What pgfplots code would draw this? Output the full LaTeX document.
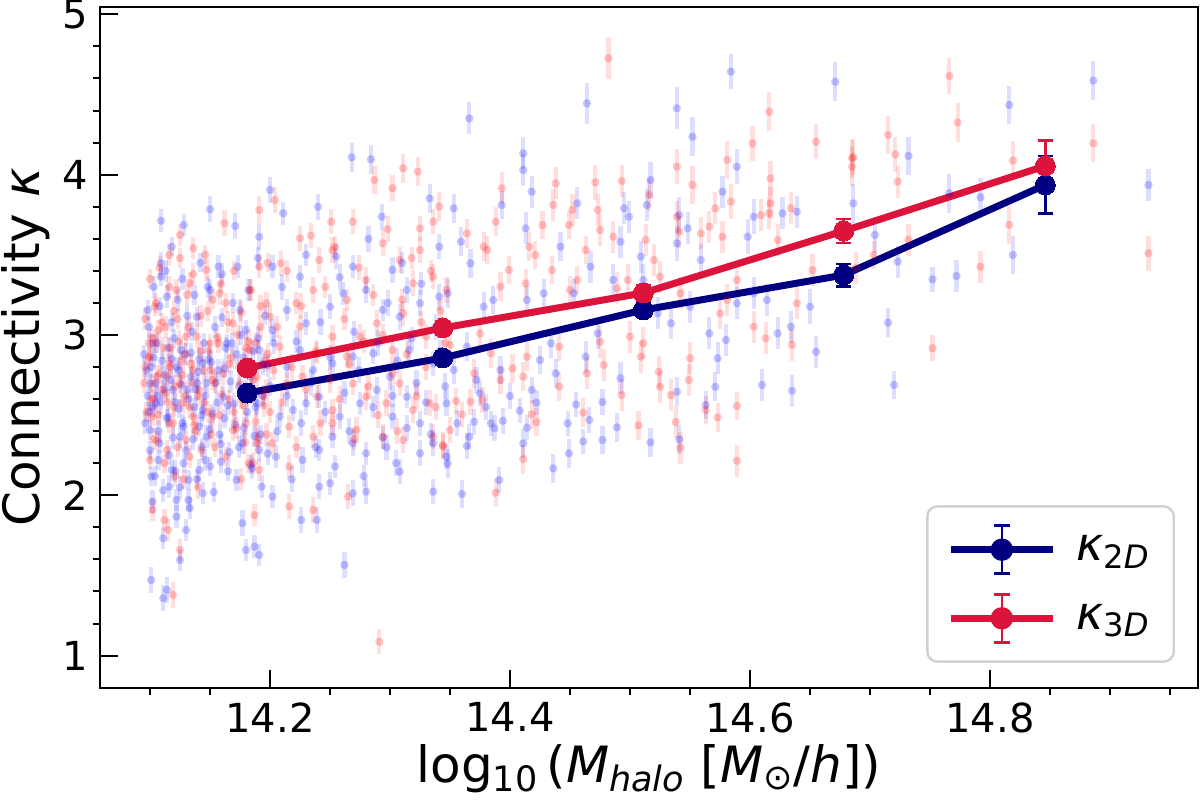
\documentclass[border=0pt]{standalone}
\usepackage{fontspec}
\setmainfont{DejaVu Sans}
\usepackage{pgfplots}
\pgfplotsset{compat=1.18}
\definecolor{navy}{RGB}{0,0,128}
\definecolor{crim}{RGB}{220,20,60}
\definecolor{scblue}{RGB}{0,0,255}
\definecolor{scred}{RGB}{255,0,0}
\pgfplotsset{
  scat/.style={only marks, mark=*, mark size=2.1pt, forget plot,
    mark options={fill=#1, draw=#1, fill opacity=0.22, draw opacity=0, line width=0pt},
    error bars/.cd, y dir=both, y explicit, error mark=none,
    error bar style={line width=2.1pt, draw=#1, draw opacity=0.13}},
  mean/.style={color=#1, line width=3.5pt, mark=*, mark size=5pt, forget plot,
    mark options={solid, fill=#1, draw=#1, line width=0pt},
    error bars/.cd, y dir=both, y explicit, error mark=|,
    error bar style={line width=1.3pt, #1, solid},
    error mark options={#1, line width=1.3pt, mark size=3.75pt, solid}},
}
\begin{document}
\begin{tikzpicture}
\useasboundingbox (-50pt,-55.5pt) rectangle (550pt,344pt);
\begin{axis}[
  at={(0pt,0pt)}, anchor=south west,
  width=549pt, height=340.5pt, scale only axis,
  xmin=14.0583, xmax=14.9733, ymin=0.798, ymax=5.046,
  xtick={14.2,14.4,14.6,14.8},
  xticklabels={14.2,14.4,14.6,14.8},
  minor xtick={14.1,14.15,14.25,14.3,14.35,14.45,14.5,14.55,14.65,14.7,14.75,14.85,14.9,14.95},
  ytick={1,2,3,4,5},
  yticklabels={1,2,3,4,5},
  minor ytick={1.2,1.4,1.6,1.8,2.2,2.4,2.6,2.8,3.2,3.4,3.6,3.8,4.2,4.4,4.6,4.8},
  xtick pos=bottom, ytick pos=left,
  tick align=inside,
  major tick length=9pt, minor tick length=3.5pt,
  every tick/.style={black, line width=1pt},
  minor x tick style={yshift=-3.5pt},
  minor y tick style={xshift=-3.5pt},
  axis line style={line width=1.1pt},
  /pgf/number format/assume math mode=true,
  tick label style={font=\fontsize{20}{24}\selectfont},
  xticklabel style={inner sep=0pt, yshift=-7pt},
  yticklabel style={inner sep=0pt, xshift=-6pt},
  xlabel={log\textsubscript{10}\,(\textit{M}\textsubscript{\textit{halo}} [\textit{M}\textsubscript{⊙}/\textit{h}])},
  ylabel={Connectivity \textit{κ}},
  xlabel style={font=\fontsize{25}{30}\selectfont, at={(axis description cs:0.5,-0.1387)}, anchor=base, inner sep=0pt},
  ylabel style={font=\fontsize{25}{30}\selectfont, at={(axis description cs:-0.0455,0.5)}, anchor=south, inner sep=0pt},
  legend cell align=left,
  legend style={at={(0.979,0.037)}, anchor=south east, draw=black!18, line width=1.2pt,
    rounded corners=5pt, inner xsep=10pt, inner ysep=9pt, row sep=9pt, column sep=8pt,
    font=\fontsize{23}{26}\selectfont},
]
% ---------- scatter: kappa 2D (blue) ----------
\addplot[scat=scblue] table[x index=0, y index=1, y error index=2] {
14.109 3.713 0.07
14.150 3.784 0.08
14.128 3.686 0.07
14.171 3.680 0.08
14.200 3.905 0.08
14.211 3.759 0.07
14.240 3.800 0.08
14.268 4.108 0.09
14.284 4.096 0.09
14.293 3.738 0.08
14.333 3.852 0.09
14.341 3.551 0.08
14.109 3.447 0.07
14.109 3.364 0.06
14.157 3.426 0.07
14.173 3.426 0.07
14.191 3.613 0.08
14.202 3.426 0.07
14.225 3.364 0.07
14.255 3.489 0.08
14.269 3.426 0.07
14.302 3.406 0.08
14.314 3.281 0.08
14.098 3.156 0.06
14.114 3.239 0.07
14.139 3.114 0.06
14.150 3.281 0.07
14.175 3.156 0.07
14.180 3.031 0.06
14.202 3.031 0.07
14.214 3.156 0.07
14.230 3.073 0.07
14.250 3.177 0.08
14.261 3.260 0.07
14.280 3.281 0.08
14.294 3.156 0.07
14.308 3.114 0.08
14.325 3.198 0.08
14.341 3.239 0.08
14.102 2.948 0.06
14.126 2.906 0.06
14.144 2.823 0.07
14.164 2.948 0.06
14.191 2.906 0.07
14.214 2.802 0.07
14.225 2.906 0.07
14.236 2.782 0.07
14.252 2.823 0.07
14.269 2.865 0.08
14.286 2.886 0.07
14.300 2.740 0.08
14.316 2.906 0.08
14.336 2.823 0.08
14.100 2.698 0.06
14.105 2.574 0.06
14.119 2.657 0.06
14.139 2.698 0.06
14.144 2.532 0.07
14.161 2.615 0.06
14.189 2.574 0.07
14.208 2.491 0.07
14.219 2.532 0.07
14.230 2.574 0.07
14.241 2.615 0.07
14.258 2.491 0.08
14.275 2.574 0.07
14.289 2.657 0.08
14.302 2.491 0.08
14.314 2.615 0.07
14.325 2.449 0.08
14.347 2.574 0.08
14.100 2.408 0.06
14.108 2.325 0.06
14.125 2.366 0.07
14.141 2.428 0.06
14.147 2.366 0.07
14.177 2.325 0.07
14.191 2.283 0.07
14.205 2.241 0.07
14.227 2.221 0.08
14.241 2.283 0.07
14.252 2.366 0.07
14.269 2.325 0.08
14.280 2.262 0.07
14.297 2.300 0.08
14.305 2.200 0.08
14.325 2.262 0.08
14.336 2.325 0.08
14.347 2.241 0.08
14.101 2.117 0.06
14.118 2.158 0.07
14.132 2.096 0.06
14.141 2.158 0.07
14.159 2.210 0.07
14.172 2.096 0.07
14.193 2.054 0.07
14.241 2.054 0.08
14.250 2.075 0.07
14.269 2.013 0.08
14.280 2.023 0.08
14.308 2.148 0.08
14.336 2.023 0.08
14.102 1.961 0.07
14.116 2.054 0.07
14.122 1.971 0.07
14.132 1.971 0.07
14.144 2.013 0.07
14.122 1.867 0.07
14.130 1.784 0.07
14.111 1.732 0.07
14.177 1.826 0.08
14.202 1.992 0.07
14.226 1.846 0.08
14.239 1.846 0.08
14.180 1.659 0.07
14.187 1.680 0.07
14.191 1.628 0.07
14.262 1.566 0.08
14.101 1.472 0.08
14.111 1.358 0.08
14.114 1.410 0.08
14.125 1.597 0.07
14.097 2.78 0.06
14.103 2.86 0.06
14.106 2.62 0.06
14.112 2.75 0.06
14.115 2.49 0.06
14.118 2.85 0.06
14.121 2.58 0.06
14.124 2.78 0.06
14.127 2.45 0.06
14.131 2.66 0.06
14.134 2.89 0.06
14.137 2.55 0.06
14.140 2.77 0.06
14.143 2.30 0.06
14.146 2.62 0.06
14.149 2.85 0.06
14.152 2.51 0.06
14.155 2.70 0.06
14.158 2.38 0.06
14.162 2.79 0.06
14.165 2.56 0.06
14.168 2.95 0.06
14.171 2.44 0.06
14.174 2.68 0.06
14.178 2.86 0.06
14.181 2.52 0.06
14.184 2.74 0.06
14.187 2.37 0.07
14.190 2.98 0.07
14.194 2.62 0.07
14.198 2.81 0.07
14.135 3.02 0.06
14.118 3.08 0.06
14.160 3.11 0.06
14.099 2.52 0.06
14.107 2.22 0.06
14.128 2.20 0.06
14.150 2.18 0.06
14.166 2.27 0.06
14.185 2.17 0.07
14.366 4.351 0.10
14.464 4.445 0.13
14.411 4.133 0.10
14.411 4.029 0.10
14.418 3.894 0.10
14.353 3.790 0.09
14.359 3.582 0.09
14.393 3.811 0.09
14.413 3.665 0.10
14.442 3.551 0.09
14.456 3.821 0.10
14.495 3.790 0.10
14.499 3.738 0.10
14.492 3.582 0.10
14.517 3.967 0.11
14.514 3.811 0.10
14.539 4.414 0.13
14.552 4.237 0.12
14.541 3.748 0.11
14.548 3.665 0.10
14.539 3.572 0.11
14.584 4.643 0.11
14.589 4.050 0.11
14.577 3.894 0.10
14.603 3.738 0.11
14.598 3.613 0.11
14.627 3.759 0.10
14.639 3.769 0.10
14.671 4.580 0.12
14.686 3.821 0.12
14.559 3.468 0.10
14.509 3.489 0.10
14.511 3.343 0.10
14.486 3.343 0.10
14.467 3.426 0.10
14.453 3.260 0.09
14.428 3.260 0.09
14.414 3.218 0.09
14.348 3.260 0.09
14.367 3.447 0.09
14.378 3.177 0.09
14.386 3.218 0.09
14.534 3.073 0.10
14.523 3.135 0.10
14.550 3.177 0.10
14.566 3.010 0.10
14.580 2.969 0.10
14.589 3.198 0.10
14.614 3.218 0.10
14.623 3.010 0.10
14.634 3.052 0.10
14.650 3.177 0.11
14.655 2.896 0.10
14.603 3.260 0.10
14.573 2.855 0.10
14.463 2.865 0.10
14.473 3.010 0.10
14.434 2.948 0.09
14.425 2.844 0.09
14.392 2.782 0.09
14.353 2.782 0.09
14.364 2.927 0.09
14.492 2.730 0.10
14.438 2.761 0.09
14.348 2.199 0.09
14.364 2.307 0.08
14.366 2.366 0.08
14.370 2.459 0.08
14.360 2.008 0.09
14.391 2.095 0.08
14.387 2.418 0.08
14.384 2.449 0.08
14.394 2.465 0.08
14.408 2.528 0.08
14.411 2.324 0.09
14.414 2.422 0.08
14.422 2.578 0.08
14.400 2.619 0.08
14.436 2.168 0.09
14.448 2.449 0.08
14.449 2.262 0.09
14.455 2.567 0.08
14.461 2.336 0.08
14.466 2.470 0.08
14.477 2.345 0.09
14.477 2.582 0.08
14.489 2.424 0.09
14.517 2.330 0.09
14.541 2.349 0.09
14.539 2.646 0.09
14.563 2.563 0.09
14.571 2.677 0.09
14.610 2.688 0.10
14.635 2.652 0.10
14.375 2.636 0.08
14.418 2.657 0.08
14.380 2.55 0.08
14.356 2.45 0.08
14.372 2.72 0.08
14.816 4.435 0.12
14.886 4.587 0.12
14.732 4.117 0.12
14.792 3.859 0.12
14.766 3.884 0.12
14.932 3.936 0.10
14.704 3.624 0.11
14.723 3.458 0.10
14.752 3.347 0.08
14.772 3.368 0.10
14.819 3.499 0.12
14.715 3.077 0.09
14.720 2.688 0.09
};
\addplot[scat=scblue] table[x index=0, y index=1, y error index=2] {
14.095 2.88 0.06
14.096 2.45 0.07
14.098 2.62 0.06
14.099 3.05 0.07
14.100 2.28 0.06
14.101 2.80 0.07
14.102 2.55 0.06
14.103 3.30 0.07
14.104 2.12 0.06
14.105 2.70 0.07
14.106 2.95 0.06
14.107 2.40 0.07
14.108 3.18 0.06
14.109 2.58 0.07
14.110 2.84 0.06
14.111 2.03 0.07
14.112 2.66 0.06
14.113 3.40 0.07
14.114 2.48 0.06
14.115 2.92 0.07
14.116 2.25 0.06
14.117 2.72 0.07
14.118 3.55 0.06
14.119 2.36 0.07
14.120 2.98 0.06
14.121 2.15 0.07
14.122 2.80 0.06
14.123 3.22 0.07
14.124 2.54 0.06
14.125 2.05 0.07
14.126 2.69 0.06
14.127 3.35 0.07
14.128 2.43 0.06
14.129 2.88 0.07
14.130 2.28 0.06
14.131 3.12 0.07
14.132 2.60 0.06
14.133 1.92 0.07
14.134 2.74 0.06
14.136 2.35 0.07
14.137 3.25 0.06
14.138 2.66 0.07
14.139 2.10 0.06
14.141 2.85 0.07
14.142 3.45 0.06
14.143 2.50 0.07
14.145 2.95 0.06
14.146 2.22 0.07
14.147 2.70 0.06
14.148 3.30 0.07
14.150 2.41 0.06
14.151 2.83 0.07
14.153 2.02 0.06
14.154 3.05 0.07
14.156 2.58 0.06
14.157 2.78 0.07
14.159 2.32 0.06
14.160 3.38 0.07
14.162 2.48 0.06
14.163 2.92 0.07
14.165 2.15 0.06
14.167 2.71 0.07
14.169 3.20 0.06
14.170 2.57 0.07
14.172 2.88 0.06
14.174 2.30 0.07
14.176 3.00 0.06
14.178 2.42 0.07
14.180 2.76 0.06
14.182 3.28 0.07
14.184 2.19 0.06
14.186 2.90 0.07
14.188 2.55 0.06
14.190 3.48 0.07
14.192 2.38 0.06
14.194 2.82 0.07
14.196 3.12 0.06
14.198 2.26 0.07
14.200 2.68 0.06
14.203 2.95 0.07
14.206 2.40 0.07
14.210 3.30 0.08
14.214 2.62 0.07
14.218 2.10 0.08
14.222 2.96 0.07
14.226 2.45 0.08
14.230 3.50 0.07
14.234 2.70 0.08
14.238 2.30 0.07
14.242 3.08 0.08
14.246 2.52 0.07
14.250 2.86 0.08
14.254 2.18 0.07
14.258 3.36 0.08
14.262 2.64 0.07
14.266 2.40 0.08
14.270 3.02 0.07
14.274 2.78 0.08
14.278 2.12 0.07
14.282 3.60 0.08
14.286 2.55 0.07
14.290 2.95 0.08
14.294 2.36 0.07
14.298 3.20 0.08
14.302 2.62 0.07
14.306 2.84 0.08
14.310 3.45 0.07
14.314 2.42 0.08
14.318 2.98 0.07
14.322 2.70 0.08
14.326 3.32 0.07
14.330 2.58 0.08
14.334 2.38 0.07
14.338 3.05 0.08
14.342 2.90 0.07
14.346 2.68 0.08
};
% ---------- scatter: kappa 3D (red) ----------
\addplot[scat=scred] table[x index=0, y index=1, y error index=2] {
14.125 3.624 0.07
14.116 3.499 0.07
14.136 3.541 0.07
14.162 3.697 0.08
14.191 3.780 0.09
14.204 3.842 0.08
14.225 3.603 0.08
14.251 3.707 0.08
14.269 3.707 0.08
14.287 3.967 0.09
14.302 3.915 0.08
14.311 4.040 0.09
14.323 4.019 0.09
14.325 3.665 0.08
14.336 3.707 0.08
14.341 3.801 0.09
14.291 1.087 0.08
14.104 3.177 0.06
14.105 2.948 0.06
14.122 3.281 0.07
14.133 3.323 0.07
14.147 3.406 0.07
14.158 3.260 0.07
14.183 3.281 0.07
14.191 3.426 0.07
14.209 3.447 0.08
14.197 3.198 0.07
14.222 3.198 0.07
14.236 3.281 0.08
14.241 3.468 0.08
14.252 3.530 0.08
14.264 3.219 0.07
14.280 3.343 0.08
14.294 3.572 0.08
14.308 3.468 0.08
14.319 3.323 0.08
14.325 3.530 0.08
14.336 3.364 0.08
14.347 3.281 0.08
14.100 2.865 0.06
14.107 3.031 0.06
14.116 2.823 0.06
14.130 2.990 0.06
14.136 2.782 0.06
14.150 2.948 0.06
14.169 3.073 0.07
14.183 2.906 0.07
14.200 3.114 0.07
14.208 2.927 0.07
14.225 3.052 0.07
14.239 2.886 0.07
14.252 2.990 0.07
14.264 2.865 0.07
14.275 2.990 0.08
14.289 3.073 0.08
14.302 2.906 0.08
14.311 3.135 0.08
14.330 2.990 0.08
14.102 2.698 0.06
14.114 2.740 0.06
14.125 2.698 0.06
14.127 2.574 0.06
14.141 2.657 0.06
14.152 2.719 0.06
14.175 2.698 0.07
14.189 2.740 0.07
14.197 2.657 0.07
14.214 2.698 0.07
14.227 2.740 0.07
14.239 2.615 0.07
14.252 2.532 0.07
14.269 2.698 0.07
14.280 2.615 0.08
14.297 2.574 0.08
14.308 2.698 0.08
14.319 2.532 0.08
14.333 2.574 0.08
14.102 2.491 0.06
14.116 2.449 0.06
14.130 2.345 0.06
14.136 2.491 0.06
14.152 2.491 0.06
14.169 2.408 0.07
14.180 2.449 0.07
14.189 2.325 0.07
14.202 2.325 0.07
14.216 2.428 0.07
14.236 2.366 0.07
14.252 2.449 0.07
14.272 2.408 0.08
14.294 2.366 0.08
14.311 2.345 0.08
14.336 2.366 0.08
14.344 2.304 0.08
14.100 2.221 0.06
14.114 2.283 0.06
14.133 2.241 0.07
14.186 2.200 0.07
14.191 2.158 0.07
14.216 2.179 0.07
14.102 1.909 0.07
14.112 1.846 0.07
14.115 1.784 0.07
14.125 1.659 0.07
14.119 1.379 0.08
14.187 1.877 0.07
14.216 1.930 0.08
14.236 1.909 0.08
14.265 1.992 0.08
14.096 2.80 0.06
14.099 2.95 0.06
14.103 2.60 0.06
14.108 2.76 0.06
14.110 3.08 0.06
14.113 2.64 0.06
14.117 2.92 0.06
14.120 2.55 0.06
14.123 3.10 0.06
14.126 2.84 0.06
14.129 2.62 0.06
14.132 3.05 0.06
14.135 2.70 0.06
14.138 2.40 0.06
14.142 2.90 0.06
14.145 2.58 0.06
14.148 3.15 0.06
14.151 2.78 0.06
14.154 2.30 0.06
14.157 2.95 0.06
14.160 2.63 0.06
14.163 3.20 0.06
14.166 2.82 0.06
14.170 2.52 0.06
14.173 3.00 0.06
14.176 2.60 0.06
14.179 2.33 0.07
14.182 2.96 0.07
14.185 2.64 0.07
14.188 2.46 0.07
14.192 3.05 0.07
14.195 2.56 0.07
14.198 2.88 0.07
14.106 2.34 0.06
14.121 2.12 0.06
14.140 2.05 0.07
14.176 2.10 0.07
14.197 2.38 0.07
14.482 4.726 0.13
14.616 4.393 0.12
14.655 4.206 0.11
14.602 4.195 0.11
14.685 4.102 0.12
14.685 4.050 0.12
14.581 4.092 0.12
14.539 4.050 0.11
14.552 3.936 0.12
14.617 3.977 0.11
14.584 3.832 0.11
14.617 3.821 0.10
14.616 3.759 0.10
14.609 3.748 0.10
14.571 3.790 0.10
14.634 3.790 0.10
14.623 3.593 0.10
14.559 3.634 0.10
14.566 3.676 0.10
14.577 3.613 0.10
14.539 3.738 0.10
14.541 3.645 0.10
14.516 3.873 0.10
14.513 3.593 0.10
14.520 3.468 0.10
14.493 3.961 0.10
14.471 3.952 0.11
14.438 3.946 0.10
14.393 3.915 0.10
14.436 3.811 0.10
14.452 3.780 0.10
14.473 3.780 0.10
14.475 3.655 0.10
14.486 3.613 0.10
14.449 3.686 0.09
14.427 3.686 0.09
14.388 3.707 0.09
14.364 3.634 0.09
14.378 3.551 0.09
14.381 3.530 0.09
14.416 3.551 0.09
14.421 3.499 0.09
14.399 3.405 0.09
14.392 3.301 0.09
14.413 3.322 0.09
14.435 3.405 0.09
14.456 3.343 0.09
14.463 3.530 0.09
14.450 3.281 0.09
14.489 3.291 0.10
14.498 3.343 0.10
14.525 3.364 0.10
14.542 3.260 0.10
14.575 3.135 0.10
14.589 3.343 0.10
14.581 3.218 0.10
14.603 3.052 0.10
14.613 2.979 0.10
14.635 2.938 0.10
14.639 3.198 0.10
14.652 3.405 0.10
14.500 2.990 0.10
14.509 2.865 0.10
14.511 2.948 0.10
14.475 2.958 0.10
14.478 2.813 0.10
14.464 2.761 0.10
14.441 2.927 0.09
14.414 2.865 0.09
14.402 2.792 0.09
14.370 2.761 0.09
14.350 2.938 0.09
14.375 3.010 0.09
14.384 2.886 0.09
14.411 2.740 0.09
14.524 2.771 0.10
14.550 2.855 0.10
14.549 2.719 0.10
14.392 2.719 0.09
14.350 2.407 0.08
14.344 2.314 0.08
14.355 2.588 0.08
14.360 2.505 0.08
14.367 2.584 0.08
14.377 2.594 0.08
14.388 2.016 0.09
14.411 2.226 0.09
14.418 2.505 0.09
14.422 2.457 0.09
14.461 2.515 0.09
14.507 2.436 0.09
14.538 2.457 0.10
14.542 2.297 0.10
14.573 2.486 0.09
14.589 2.557 0.09
14.589 2.216 0.10
14.534 2.625 0.10
14.493 2.625 0.10
14.525 2.677 0.10
14.441 2.678 0.09
14.563 2.532 0.09
14.766 4.616 0.11
14.773 4.325 0.12
14.715 4.248 0.12
14.721 4.127 0.11
14.723 3.957 0.10
14.686 4.109 0.11
14.886 4.196 0.12
14.819 4.088 0.12
14.816 3.687 0.12
14.932 3.510 0.11
14.732 3.593 0.10
14.703 3.499 0.09
14.792 3.426 0.10
14.752 2.917 0.08
14.688 3.416 0.10
};
\addplot[scat=scred] table[x index=0, y index=1, y error index=2] {
14.095 2.70 0.06
14.096 3.10 0.07
14.097 2.52 0.06
14.099 2.86 0.07
14.100 3.35 0.06
14.101 2.60 0.07
14.102 2.98 0.06
14.103 2.35 0.07
14.105 3.20 0.06
14.106 2.74 0.07
14.107 2.50 0.06
14.108 3.42 0.07
14.110 2.66 0.06
14.111 2.92 0.07
14.112 2.20 0.06
14.113 3.05 0.07
14.115 2.58 0.06
14.116 3.30 0.07
14.117 2.80 0.06
14.119 2.45 0.07
14.120 3.15 0.06
14.121 2.68 0.07
14.123 2.30 0.06
14.124 2.96 0.07
14.125 3.48 0.06
14.127 2.75 0.07
14.128 2.10 0.06
14.130 2.88 0.07
14.131 3.25 0.06
14.133 2.55 0.07
14.134 2.82 0.06
14.136 3.38 0.07
14.137 2.44 0.06
14.139 2.99 0.07
14.140 2.62 0.06
14.142 3.12 0.07
14.143 2.28 0.06
14.145 2.78 0.07
14.146 3.50 0.06
14.148 2.52 0.07
14.149 2.90 0.06
14.151 2.38 0.07
14.152 3.22 0.06
14.154 2.70 0.07
14.156 2.98 0.06
14.158 2.50 0.07
14.159 3.32 0.06
14.161 2.76 0.07
14.163 2.24 0.06
14.165 3.08 0.07
14.166 2.60 0.06
14.168 2.86 0.07
14.170 3.40 0.06
14.172 2.42 0.07
14.174 2.80 0.06
14.176 3.14 0.07
14.178 2.56 0.06
14.180 2.92 0.07
14.182 2.20 0.06
14.184 3.28 0.07
14.186 2.72 0.06
14.188 2.95 0.07
14.190 2.36 0.06
14.192 3.18 0.07
14.194 2.62 0.06
14.196 2.84 0.07
14.198 3.45 0.06
14.200 2.52 0.07
14.203 2.78 0.06
14.206 3.05 0.07
14.210 2.58 0.08
14.214 3.40 0.07
14.218 2.80 0.08
14.222 2.30 0.07
14.226 3.18 0.08
14.230 2.66 0.07
14.234 3.62 0.08
14.238 2.90 0.07
14.242 2.45 0.08
14.246 3.30 0.07
14.250 2.72 0.08
14.254 3.55 0.07
14.258 2.60 0.08
14.262 3.10 0.07
14.266 2.82 0.08
14.270 2.35 0.07
14.274 3.42 0.08
14.278 2.96 0.07
14.282 2.68 0.08
14.286 3.25 0.07
14.290 2.50 0.08
14.294 3.00 0.07
14.298 3.66 0.08
14.302 2.76 0.07
14.306 2.40 0.08
14.310 3.22 0.07
14.314 2.88 0.08
14.318 3.48 0.07
14.322 2.62 0.08
14.326 3.08 0.07
14.330 2.80 0.08
14.334 3.40 0.07
14.338 2.55 0.08
14.342 3.15 0.07
14.346 2.95 0.08
};
% ---------- binned means ----------
\addplot[mean=navy] table[x index=0, y index=1, y error index=2] {
14.181 2.638 0.03
14.344 2.857 0.03
14.511 3.156 0.04
14.678 3.374 0.07
14.846 3.936 0.18
};
\addplot[mean=crim] table[x index=0, y index=1, y error index=2] {
14.181 2.794 0.03
14.344 3.044 0.03
14.511 3.262 0.05
14.678 3.649 0.075
14.846 4.054 0.16
};
% ---------- legend ----------
\addlegendimage{legend image code/.code={
  \draw[navy, line width=3.5pt] (0pt,0pt) -- (51pt,0pt);
  \draw[navy, line width=1.3pt] (25.5pt,-12pt) -- (25.5pt,12pt);
  \draw[navy, line width=1.3pt] (21.5pt,-12pt) -- (29.5pt,-12pt) (21.5pt,12pt) -- (29.5pt,12pt);
  \fill[navy] (25.5pt,0pt) circle (5pt);}}
\addlegendentry{\textit{κ}\textsubscript{2\textit{D}}}
\addlegendimage{legend image code/.code={
  \draw[crim, line width=3.5pt] (0pt,0pt) -- (51pt,0pt);
  \draw[crim, line width=1.3pt] (25.5pt,-12pt) -- (25.5pt,12pt);
  \draw[crim, line width=1.3pt] (21.5pt,-12pt) -- (29.5pt,-12pt) (21.5pt,12pt) -- (29.5pt,12pt);
  \fill[crim] (25.5pt,0pt) circle (5pt);}}
\addlegendentry{\textit{κ}\textsubscript{3\textit{D}}}
\end{axis}
\end{tikzpicture}
\end{document}
